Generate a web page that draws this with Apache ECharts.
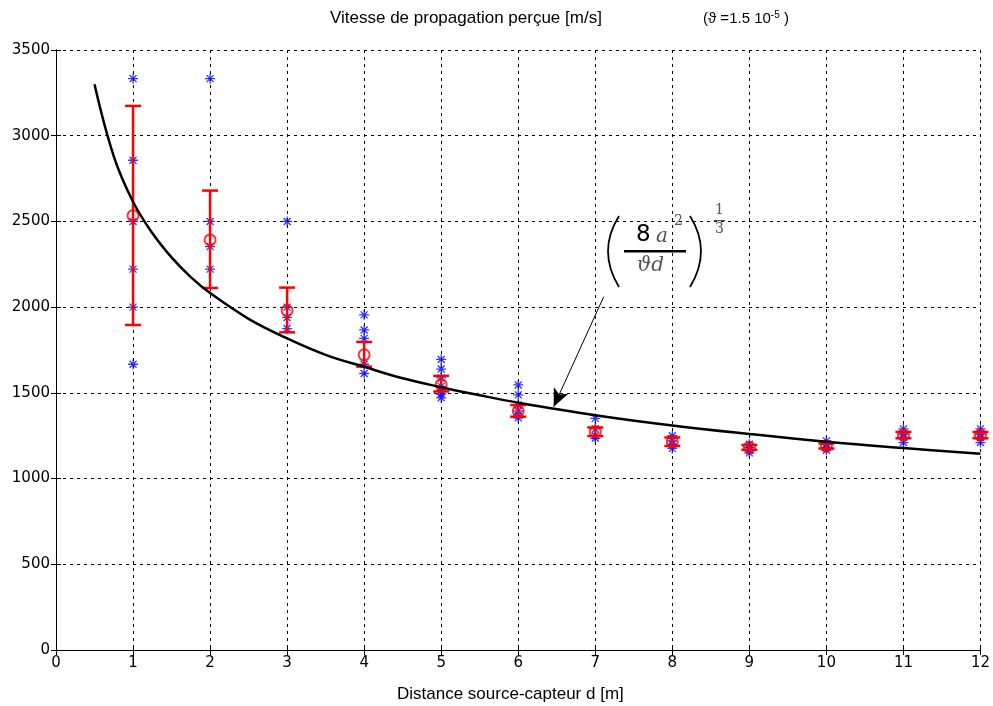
<!DOCTYPE html>
<html>
<head>
<meta charset="utf-8">
<script src="https://cdn.jsdelivr.net/npm/echarts@6/dist/echarts.min.js"></script>
<style>
  html, body { margin: 0; padding: 0; background: #fff; }
  #main { width: 993px; height: 706px; }
</style>
</head>
<body>
<div id="main"></div>
<script>
// distances source-capteur (m)
var distances = [1, 2, 3, 4, 5, 6, 7, 8, 9, 10, 11, 12];

// vitesses mesurees (étoiles bleues), une liste par distance
var starValues = [
    [3333, 2857, 2500, 2222, 2000, 1667],
    [3333, 2500, 2353, 2222],
    [2500, 2000, 1940, 1875],
    [1955, 1867, 1818, 1667, 1613],
    [1695, 1639, 1587, 1538, 1515, 1493, 1471],
    [1546, 1488, 1429, 1395, 1370, 1354],
    [1351, 1290, 1250, 1235],
    [1250, 1220, 1200, 1176],
    [1200, 1180, 1165, 1150],
    [1220, 1200, 1180, 1165],
    [1290, 1260, 1240, 1210],
    [1290, 1260, 1240, 1210]
];

// moyennes (cercles rouges) et barres d'erreur
var meanValues = [2534, 2392, 1980, 1722, 1548, 1395, 1274, 1215, 1182, 1190, 1254, 1254];
var errLow  = [1896, 2112, 1853, 1653, 1508, 1361, 1248, 1190, 1168, 1175, 1235, 1235];
var errHigh = [3174, 2680, 2114, 1797, 1599, 1429, 1298, 1240, 1196, 1205, 1272, 1272];

// courbe (8a^2/(theta d))^(1/3)
var curveX = [0.5, 0.75, 1, 1.25, 1.5, 1.75, 2, 2.5, 3, 3.5, 4, 4.5, 5, 5.5, 6, 7, 8, 9, 10, 11, 12];
var curveY = [3300, 2880, 2615, 2432, 2290, 2175, 2082, 1932, 1818, 1722, 1652, 1585, 1533, 1486, 1443, 1370, 1310, 1260, 1215, 1178, 1145];

// axes
var xTicks = [0, 12, 1];
var yTicks = [0, 3500, 500];

var chart = echarts.init(document.getElementById('main'));

var starData = [];
distances.forEach(function (d, i) {
    starValues[i].forEach(function (v) { starData.push([d, v]); });
});
var meanData = distances.map(function (d, i) { return [d, meanValues[i]]; });
var errData = distances.map(function (d, i) { return [d, errLow[i], errHigh[i]]; });
var curveData = curveX.map(function (x, i) { return [x, curveY[i]]; });

var FONT = 'DejaVu Sans';
var gridLine = { show: true, lineStyle: { color: '#000', type: [3, 4], width: 1 } };
var axisLineBlack = { show: true, lineStyle: { color: '#000', width: 1 } };
var tickIn = { show: true, inside: true, length: 5, lineStyle: { color: '#000' } };

var option = {
    backgroundColor: '#fff',
    animation: false,
    grid: { left: 56, right: 7, top: 50, bottom: 56 },
    xAxis: [{
        type: 'value', min: xTicks[0], max: xTicks[1], interval: xTicks[2],
        axisLine: axisLineBlack,
        axisTick: tickIn,
        axisLabel: { color: '#000', fontFamily: FONT, fontSize: 15, margin: 6 },
        splitLine: gridLine
    }, {
        type: 'value', position: 'top', min: xTicks[0], max: xTicks[1], interval: xTicks[2],
        axisLine: axisLineBlack, axisTick: tickIn,
        axisLabel: { show: false }, splitLine: { show: false }
    }],
    yAxis: [{
        type: 'value', min: yTicks[0], max: yTicks[1], interval: yTicks[2],
        axisLine: axisLineBlack,
        axisTick: tickIn,
        axisLabel: {
            color: '#000', fontFamily: FONT, fontSize: 15, margin: 6,
            formatter: function (v) { return String(v); }
        },
        splitLine: gridLine
    }, {
        type: 'value', position: 'right', min: yTicks[0], max: yTicks[1], interval: yTicks[2],
        axisLine: axisLineBlack, axisTick: tickIn,
        axisLabel: { show: false }, splitLine: { show: false }
    }],
    series: [
        {
            name: 'mesures',
            type: 'scatter',
            data: starData,
            symbol: 'path://M0,5L10,5M5,0L5,10M1.5,1.5L8.5,8.5M8.5,1.5L1.5,8.5',
            symbolSize: 10,
            itemStyle: { color: 'rgba(0,0,0,0)', borderColor: '#0000ff', borderWidth: 1.3 },
            z: 2
        },
        {
            name: 'erreur',
            type: 'custom',
            data: errData,
            renderItem: function (params, api) {
                var x = api.value(0);
                var lo = api.coord([x, api.value(1)]);
                var hi = api.coord([x, api.value(2)]);
                var w = 8;
                var st = { stroke: '#ff0000', lineWidth: 2.5 };
                return {
                    type: 'group',
                    children: [
                        { type: 'line', shape: { x1: lo[0], y1: lo[1], x2: hi[0], y2: hi[1] }, style: st },
                        { type: 'line', shape: { x1: lo[0] - w, y1: lo[1], x2: lo[0] + w, y2: lo[1] }, style: st },
                        { type: 'line', shape: { x1: hi[0] - w, y1: hi[1], x2: hi[0] + w, y2: hi[1] }, style: st }
                    ]
                };
            },
            z: 3
        },
        {
            name: 'moyenne',
            type: 'scatter',
            data: meanData,
            symbol: 'circle',
            symbolSize: 11,
            itemStyle: { color: 'rgba(0,0,0,0)', borderColor: '#ff0000', borderWidth: 2 },
            z: 4
        },
        {
            name: 'modele',
            type: 'line',
            data: curveData,
            smooth: 0.4,
            showSymbol: false,
            lineStyle: { color: '#000', width: 2.5 },
            z: 5,
            markLine: {
                silent: true,
                symbol: ['none', 'arrow'],
                symbolSize: [12, 18],
                label: { show: false },
                lineStyle: { color: '#000', width: 1, type: 'solid' },
                data: [[{ coord: [7.11, 2061] }, { coord: [6.46, 1419] }]]
            }
        }
    ],
    graphic: [
        {
            type: 'text', left: 330, top: 10, z: 10,
            style: { text: 'Vitesse de propagation perçue [m/s]', fill: '#000', font: '17px "Liberation Sans"' }
        },
        {
            type: 'text', left: 703, top: 10, z: 10,
            style: {
                text: '{a|(ϑ =1.5 10}{s|-5}{a| )}',
                rich: {
                    a: { fontFamily: 'Liberation Sans', fontSize: 15, fill: '#000' },
                    s: { fontFamily: 'Liberation Sans', fontSize: 10, fill: '#000', verticalAlign: 'top', padding: [0, 0, 7, 0] }
                }
            }
        },
        {
            type: 'text', left: 397, top: 686, z: 10,
            style: { text: 'Distance source-capteur d [m]', fill: '#000', font: '17px "Liberation Sans"' }
        },
        // formule
        { type: 'bezierCurve', z: 10,
          shape: { x1: 619, y1: 216, x2: 619, y2: 287, cpx1: 597, cpy1: 251 },
          style: { stroke: '#000', lineWidth: 1.8, fill: null } },
        { type: 'bezierCurve', z: 10,
          shape: { x1: 690, y1: 216, x2: 690, y2: 287, cpx1: 712, cpy1: 251 },
          style: { stroke: '#000', lineWidth: 1.8, fill: null } },
        { type: 'text', left: 636, top: 224, z: 10,
          style: { text: '8', fill: '#000', font: '23px "DejaVu Sans"' } },
        { type: 'text', left: 656, top: 227, z: 10,
          style: { text: 'a', fill: '#555', font: 'italic 20px "DejaVu Serif"' } },
        { type: 'text', left: 674, top: 214, z: 10,
          style: { text: '2', fill: '#555', font: '14px "DejaVu Serif"' } },
        { type: 'rect', z: 10, shape: { x: 624, y: 250, width: 62, height: 2.5 }, style: { fill: '#000' } },
        { type: 'text', left: 637, top: 256, z: 10,
          style: { text: 'ϑd', fill: '#555', font: 'italic 20px "DejaVu Serif"' } },
        { type: 'text', left: 715, top: 203, z: 10,
          style: { text: '1', fill: '#555', font: '14px "DejaVu Serif"' } },
        { type: 'rect', z: 10, shape: { x: 714, y: 220, width: 11, height: 1.2 }, style: { fill: '#555' } },
        { type: 'text', left: 715, top: 222, z: 10,
          style: { text: '3', fill: '#555', font: '14px "DejaVu Serif"' } }
    ]
};

chart.setOption(option);
window.addEventListener('resize', function () {
    chart.resize();
});
</script>
</body>
</html>
